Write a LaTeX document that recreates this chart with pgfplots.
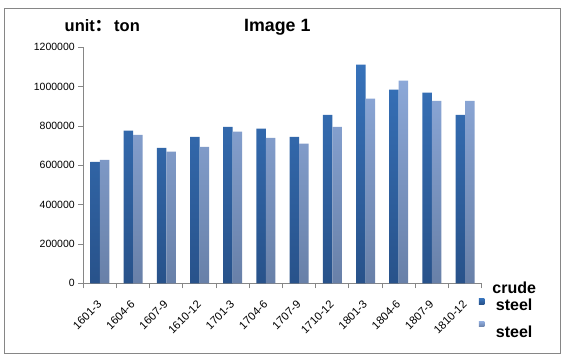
\documentclass[border=0pt]{standalone}
\usepackage{pgfplots}
\pgfplotsset{compat=1.18}
\usepackage{fontspec}
\setmainfont{Liberation Sans}
\newfontfamily\cjk{Noto Sans CJK SC}
\definecolor{axgray}{HTML}{868686}
\definecolor{crudeTop}{HTML}{3772BA}
\definecolor{crudeBot}{HTML}{28528A}
\definecolor{steelTop}{HTML}{8CA8D8}
\definecolor{steelBot}{HTML}{6880A8}
\begin{document}
\begin{tikzpicture}[x=1pt,y=1pt]
\useasboundingbox (0,0) rectangle (567,362);
\draw[axgray, line width=0.9pt] (4.5,8.5) rectangle (560.5,353.5);
\node[anchor=base west, font=\bfseries\fontsize{16.5}{18}\selectfont, inner sep=0] at (64.5,330) {unit{\cjk ：}\,ton};
\node[anchor=base west, font=\bfseries\fontsize{17.8}{20}\selectfont, inner sep=0] at (244,330) {Image 1};
\begin{axis}[
  at={(83.3pt,78.7pt)}, anchor=south west, scale only axis,
  width=398.4pt, height=236pt,
  ybar=0pt, bar width=9.5pt,
  xmin=-0.5, xmax=11.5, ymin=0, ymax=1200000,
  axis x line*=bottom, axis y line*=left,
  axis line style={axgray, line width=0.9pt},
  tick align=outside,
  major tick length=5pt, minor tick length=5pt,
  tick style={axgray, line width=0.9pt},
  ytick={0,200000,400000,600000,800000,1000000,1200000},
  scaled y ticks=false,
  yticklabel style={font=\fontsize{10.5}{12}\selectfont, /pgf/number format/.cd, fixed, set thousands separator={}, assume math mode=true},
  xtick={0,1,2,3,4,5,6,7,8,9,10,11},
  xticklabels={1601-3,1604-6,1607-9,1610-12,1701-3,1704-6,1707-9,1710-12,1801-3,1804-6,1807-9,1810-12},
  major x tick style={draw=none},
  minor xtick={-0.5,0.5,1.5,2.5,3.5,4.5,5.5,6.5,7.5,8.5,9.5,10.5,11.5},
  minor x tick style={axgray, line width=0.9pt},
  xticklabel style={font=\fontsize{11.2}{12}\selectfont, rotate=45, anchor=east, xshift=-7pt, yshift=-10pt},
  legend style={draw=none, fill=none, at={(0.985,0.022)}, anchor=north west,
    font=\bfseries\fontsize{16}{16.5}\selectfont, cells={align=center}, row sep=8pt, column sep=6pt},
  legend cell align=center,
]
\addplot[draw=none, top color=crudeTop, bottom color=crudeBot,
  legend image code/.code={\fill[crudeTop] (0pt,-7pt) rectangle (5.5pt,-1.5pt);}]
 coordinates {(0,618000) (1,776000) (2,689000) (3,745000) (4,796000) (5,786000) (6,745000) (7,857000) (8,1112000) (9,985000) (10,969000) (11,857000)};
\addlegendentry{crude\\steel}
\addplot[draw=none, top color=steelTop, bottom color=steelBot,
  legend image code/.code={\fill[steelTop!85!steelBot] (0pt,6pt) rectangle (5.5pt,11pt);}]
 coordinates {(0,628000) (1,755000) (2,669000) (3,694000) (4,771000) (5,740000) (6,710000) (7,796000) (8,939000) (9,1031000) (10,928000) (11,928000)};
\addlegendentry{steel}
\end{axis}
\end{tikzpicture}
\end{document}
